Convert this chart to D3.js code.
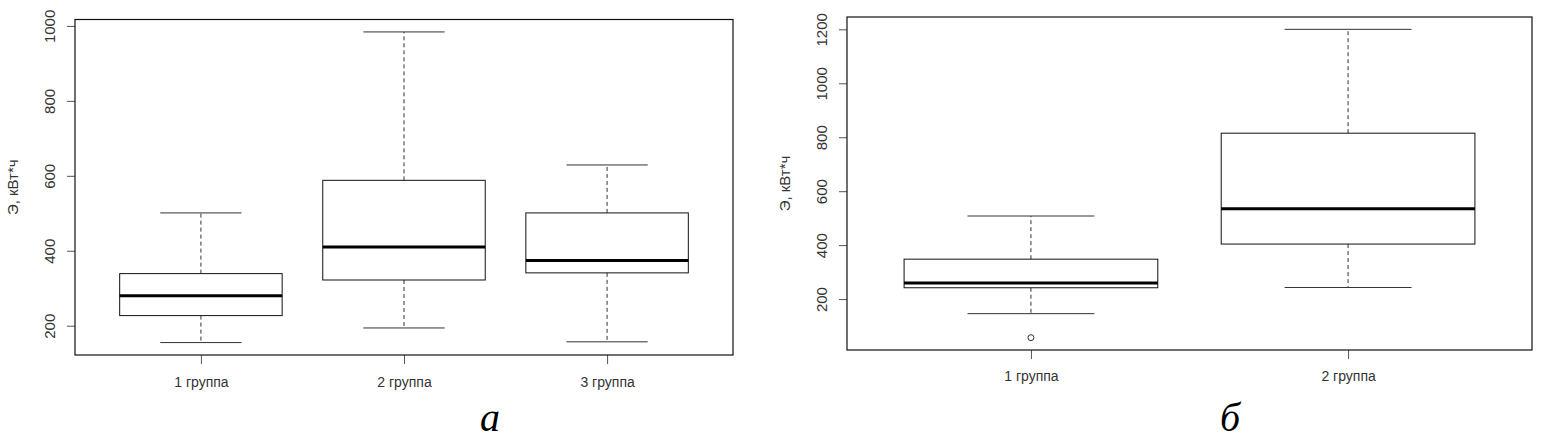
<!DOCTYPE html>
<head>
<script src="https://d3js.org/d3.v7.min.js"></script>
<meta charset="utf-8">
<style>
body { margin: 0; background: #fff; }
svg text { font-family: "Liberation Sans", Arial, sans-serif; fill: #333; }
.panel-label { font-family: "Liberation Serif", "Times New Roman", serif; font-style: italic; fill: #000; }
</style>
</head>
<body>
<svg id="chart"></svg>
<script>

// data

// panel а
var groupsA = ["1 группа", "2 группа", "3 группа"];
var lowA    = [155, 194, 157];
var q1A     = [227, 322, 341];
var medA    = [280, 410, 374];
var q3A     = [339, 588, 501];
var highA   = [501, 984, 629];
var outA    = [[], [], []];
var ticksA  = [200, 400, 600, 800, 1000];

// panel б
var groupsB = ["1 группа", "2 группа"];
var lowB    = [146, 243];
var q1B     = [242, 404];
var medB    = [260, 535];
var q3B     = [348, 815];
var highB   = [508, 1200];
var outB    = [[57], []];
var ticksB  = [200, 400, 600, 800, 1000, 1200];

var yLabel = "Э, кВт*ч";

var width = 1541, height = 441;

var svg = d3.select("#chart")
    .attr("width", width)
    .attr("height", height);

function drawPanel(p) {
    var n = p.groups.length;
    var boxes = p.groups.map((g, i) => ({
        name: g, i: i + 1,
        low: p.low[i], q1: p.q1[i], med: p.med[i], q3: p.q3[i], high: p.high[i],
        out: p.out[i]
    }));

    // R style: data range padded by 4%
    var all = [].concat(p.low, p.high, ...p.out);
    var lo = d3.min(all), hi = d3.max(all), r = hi - lo;
    var y = d3.scaleLinear().domain([lo - 0.04 * r, hi + 0.04 * r]).range([p.bottom, p.top]);
    var x = d3.scaleLinear().domain([0.5 - 0.04 * n, n + 0.5 + 0.04 * n]).range([p.left, p.right]);
    var unit = x(1) - x(0);

    var g = svg.append("g");

    // y axis
    var yAxis = g.append("g")
        .attr("transform", "translate(" + p.left + ",0)")
        .call(d3.axisLeft(y).tickValues(p.ticks).tickSize(8).tickFormat(d3.format("d")));
    yAxis.select(".domain").remove();
    yAxis.selectAll("line").attr("stroke", "#555");
    yAxis.selectAll("text")
        .attr("transform", "rotate(-90)")
        .attr("x", 0).attr("y", -p.tickGap).attr("dy", 0)
        .attr("text-anchor", "middle")
        .style("font-size", "15px")
        .attr("fill", "#333");

    // x axis
    var xAxis = g.append("g")
        .attr("transform", "translate(0," + p.bottom + ")")
        .call(d3.axisBottom(x).tickValues(boxes.map(d => d.i)).tickSize(9)
            .tickFormat(d => p.groups[d - 1]));
    xAxis.select(".domain").remove();
    xAxis.selectAll("line").attr("stroke", "#555");
    xAxis.selectAll("text")
        .attr("y", p.xLabelGap).attr("dy", 0)
        .style("font-size", "14px")
        .attr("fill", "#333");

    // y title
    g.append("text")
        .attr("transform", "translate(" + p.titleX + "," + ((p.top + p.bottom) / 2) + ") rotate(-90)")
        .attr("text-anchor", "middle")
        .style("font-size", "15px")
        .text(yLabel);

    var bx = g.selectAll(".box").data(boxes).join("g").attr("class", "box");

    // whiskers
    bx.append("line")
        .attr("x1", d => x(d.i)).attr("x2", d => x(d.i))
        .attr("y1", d => y(d.q3)).attr("y2", d => y(d.high))
        .attr("stroke", "#333").attr("stroke-dasharray", "4,3");
    bx.append("line")
        .attr("x1", d => x(d.i)).attr("x2", d => x(d.i))
        .attr("y1", d => y(d.q1)).attr("y2", d => y(d.low))
        .attr("stroke", "#333").attr("stroke-dasharray", "4,3");
    // staples
    bx.selectAll(".cap").data(d => [[d.i, d.low], [d.i, d.high]]).join("line")
        .attr("class", "cap")
        .attr("x1", d => x(d[0]) - unit * 0.2).attr("x2", d => x(d[0]) + unit * 0.2)
        .attr("y1", d => y(d[1])).attr("y2", d => y(d[1]))
        .attr("stroke", "#333");
    // box
    bx.append("rect")
        .attr("x", d => x(d.i) - unit * 0.4)
        .attr("width", unit * 0.8)
        .attr("y", d => y(d.q3))
        .attr("height", d => y(d.q1) - y(d.q3))
        .attr("fill", "none").attr("stroke", "#111");
    // median
    bx.append("line")
        .attr("x1", d => x(d.i) - unit * 0.4).attr("x2", d => x(d.i) + unit * 0.4)
        .attr("y1", d => y(d.med)).attr("y2", d => y(d.med))
        .attr("stroke", "#000").attr("stroke-width", 3);
    // outliers
    bx.selectAll(".out").data(d => d.out.map(v => [d.i, v])).join("circle")
        .attr("class", "out")
        .attr("cx", d => x(d[0])).attr("cy", d => y(d[1])).attr("r", 3)
        .attr("fill", "none").attr("stroke", "#333");

    // frame
    g.append("rect")
        .attr("x", p.left).attr("y", p.top)
        .attr("width", p.right - p.left).attr("height", p.bottom - p.top)
        .attr("fill", "none").attr("stroke", "#111").attr("stroke-width", 1.2);

    g.append("text")
        .attr("class", "panel-label")
        .attr("x", p.labelX).attr("y", 431)
        .attr("text-anchor", "middle")
        .style("font-size", "40px")
        .text(p.label);
}

drawPanel({
    groups: groupsA, low: lowA, q1: q1A, med: medA, q3: q3A, high: highA, out: outA, ticks: ticksA,
    left: 75, right: 733, top: 19.5, bottom: 355,
    tickGap: 20, xLabelGap: 32, titleX: 18, labelX: 490, label: "а"
});

drawPanel({
    groups: groupsB, low: lowB, q1: q1B, med: medB, q3: q3B, high: highB, out: outB, ticks: ticksB,
    left: 847, right: 1532, top: 17, bottom: 350,
    tickGap: 20.5, xLabelGap: 31, titleX: 790, labelX: 1230, label: "б"
});

</script>
</body>
